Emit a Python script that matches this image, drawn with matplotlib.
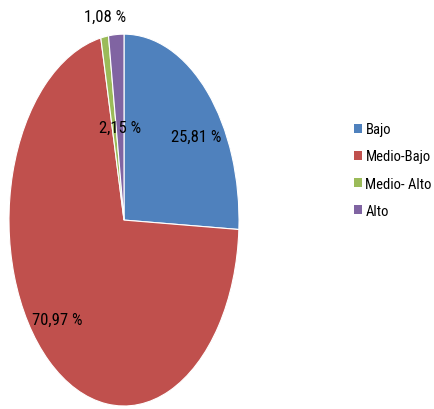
import matplotlib.pyplot as plt
from matplotlib.patches import Patch

# Datos del gráfico
categorias = ['Bajo', 'Medio-Bajo', 'Medio- Alto', 'Alto']
porcentajes = [25.81, 70.97, 1.08, 2.15]
etiquetas = ['25,81 %', '70,97 %', '1,08 %', '2,15 %']
colores = ['#4F81BD', '#C0504D', '#9BBB59', '#8064A2']

plt.rcParams['font.family'] = ['Roboto Condensed', 'DejaVu Sans']

fig = plt.figure(figsize=(4.34, 4.10), dpi=100)
ax = fig.add_axes([0.0207, 0.0073, 0.530, 0.907])

wedges, textos = ax.pie(
    porcentajes, colors=colores, startangle=90, counterclock=False,
    labels=etiquetas, labeldistance=0.77,
    wedgeprops={'edgecolor': 'white', 'linewidth': 0.8},
    textprops={'fontsize': 12, 'color': 'black'})

# Ajustar posiciones de etiquetas
textos[0].set_position((0.626, 0.452))
textos[1].set_position((-0.583, -0.532))
textos[2].set_position((-0.165, 1.097))
textos[3].set_position((-0.035, 0.5))
for t in textos:
    t.set_ha('center')
    t.set_va('center')

ax.set_aspect('auto')
ax.set_xlim(-1, 1)
ax.set_ylim(-1, 1)

handles = [Patch(facecolor=c, edgecolor='none') for c in colores]
fig.legend(handles, categorias, loc='center left', bbox_to_anchor=(0.785, 0.583),
           frameon=False, fontsize=10.5, handlelength=0.55, handleheight=0.55,
           handletextpad=0.25, labelspacing=0.9)

fig.savefig('out.png', dpi=100)
